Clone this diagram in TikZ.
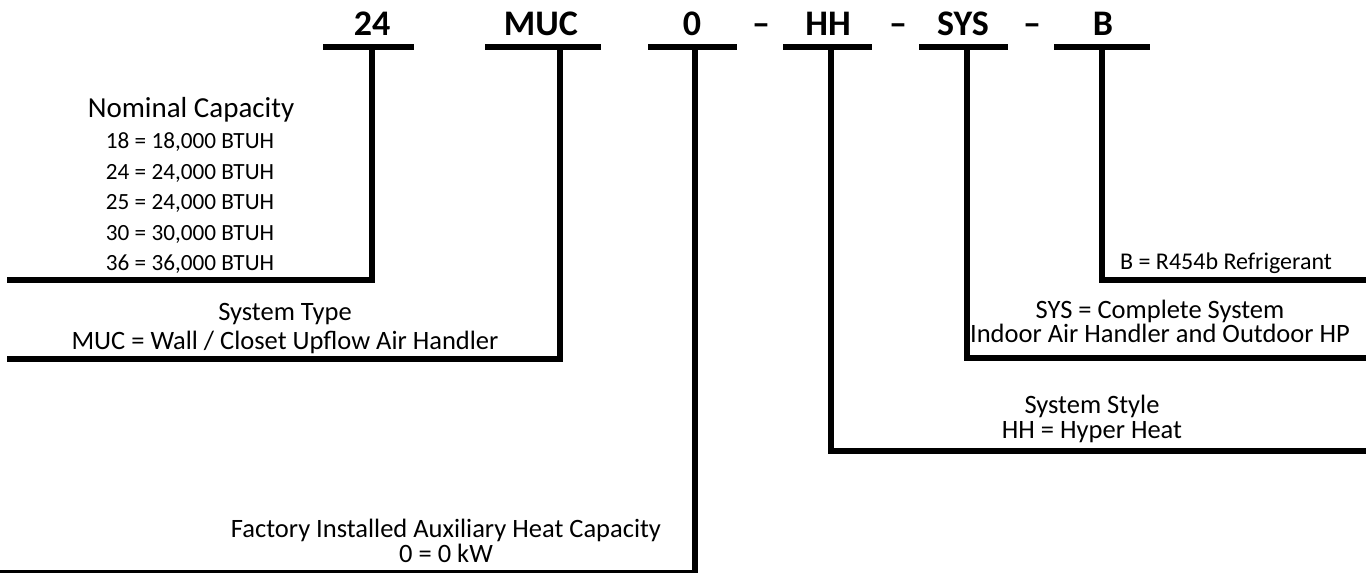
\documentclass[tikz,border=0pt]{standalone}
\usepackage{fontspec}
\setmainfont{Carlito}
\tikzset{
  codebar/.style={line width=6.5pt, draw=black, line cap=butt},
  leader/.style={line width=6.5pt, draw=black, line cap=butt, line join=miter},
  codelabel/.style={font=\fontsize{36}{42}\selectfont\bfseries, inner sep=0pt, anchor=base},
  desclabel/.style={font=\fontsize{26.5}{30}\selectfont, inner sep=0pt, anchor=base},
  rowlabel/.style={font=\fontsize{23.2}{27}\selectfont, inner sep=0pt, anchor=base},
}

\begin{document}
\begin{tikzpicture}[x=1pt,y=-1pt]
\useasboundingbox (0,0) rectangle (1366,573);
% model number
\node[codelabel] (c24) at (372,35) {24};
\node[codelabel] (cmuc) at (541,35) {MUC};
\node[codelabel] (c0) at (692,35) {0};
\node[codelabel] (d1) at (761,35) {--};
\node[codelabel] (chh) at (828,35) {HH};
\node[codelabel] (d2) at (898,35) {--};
\node[codelabel] (csys) at (963,35) {SYS};
\node[codelabel] (d3) at (1032,35) {--};
\node[codelabel] (cb) at (1103,35) {B};
% underlines
\coordinate (u24l) at (323,47);   \coordinate (u24r) at (414,47);
\coordinate (umucl) at (485,47);  \coordinate (umucr) at (601,47);
\coordinate (u0l) at (648,47);    \coordinate (u0r) at (737,47);
\coordinate (uhhl) at (783,47);   \coordinate (uhhr) at (872,47);
\coordinate (usysl) at (919,47);  \coordinate (usysr) at (1008,47);
\coordinate (ubl) at (1054,47);   \coordinate (ubr) at (1150,47);
\draw[codebar] (u24l) -- (u24r);
\draw[codebar] (umucl) -- (umucr);
\draw[codebar] (u0l) -- (u0r);
\draw[codebar] (uhhl) -- (uhhr);
\draw[codebar] (usysl) -- (usysr);
\draw[codebar] (ubl) -- (ubr);
% leaders
\coordinate (t24) at (372,47);    \coordinate (e24) at (7,280);
\coordinate (tmuc) at (560,47);   \coordinate (emuc) at (7,359);
\coordinate (t0) at (695,47);     \coordinate (e0) at (0,573);
\coordinate (thh) at (831,47);    \coordinate (ehh) at (1366,451);
\coordinate (tsys) at (967,47);   \coordinate (esys) at (1366,358);
\coordinate (tb) at (1102,47);    \coordinate (eb) at (1366,280);
\draw[leader] (t24) |- (e24);
\draw[leader] (tmuc) |- (emuc);
\draw[leader] (t0) |- (e0);
\draw[leader] (thh) |- (ehh);
\draw[leader] (tsys) |- (esys);
\draw[leader] (tb) |- (eb);
% descriptions
\node[desclabel, font=\fontsize{29}{33}\selectfont] (capttl) at (191,117) {Nominal Capacity};
\foreach \yy/\txt [count=\i] in {148.5/18 = 18{,}000 BTUH, 179/24 = 24{,}000 BTUH,
    209.5/25 = 24{,}000 BTUH, 240/30 = 30{,}000 BTUH, 270.5/36 = 36{,}000 BTUH}
  \node[rowlabel] (caprow\i) at (190,\yy) {\txt};
\node[desclabel] (typettl) at (285,320) {System Type};
\node[desclabel] (typerow) at (285,349) {MUC = Wall / Closet Upflow Air Handler};
\node[desclabel] (heatttl) at (446,537) {Factory Installed Auxiliary Heat Capacity};
\node[desclabel] (heatrow) at (446,562) {0 = 0 kW};
\node[desclabel] (stylettl) at (1092,413) {System Style};
\node[desclabel] (stylerow) at (1092,438) {HH = Hyper Heat};
\node[desclabel] (systtl) at (1160,318) {SYS = Complete System};
\node[desclabel] (sysrow) at (1160,342) {Indoor Air Handler and Outdoor HP};
\node[desclabel, font=\fontsize{24}{28}\selectfont] (refrow) at (1226,269) {B = R454b Refrigerant};
\end{tikzpicture}
\end{document}
